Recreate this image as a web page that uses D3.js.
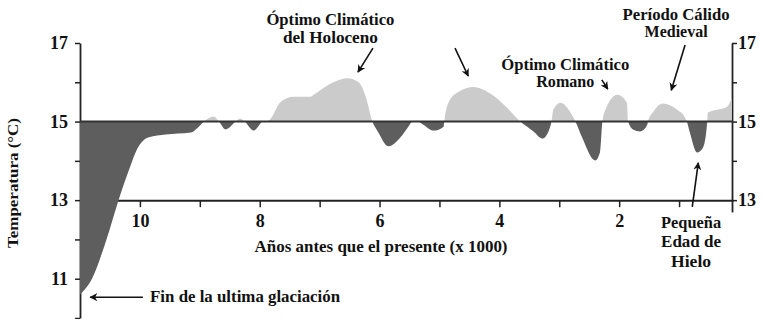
<!DOCTYPE html>
<html><head><meta charset="utf-8">
<script src="https://cdn.jsdelivr.net/npm/d3@7"></script>
<style>
html,body{margin:0;padding:0;background:#fff;}
svg{display:block;}
</style></head>
<body>
<svg id="chart" width="764" height="319"></svg>
<script>
// ---- data ----
const kyrBP = [11.0,10.8,10.57,10.35,10.18,10.05,9.85,9.57,9.15,9.03,8.93,8.77,8.68,8.57,8.4,8.33,8.25,8.1,7.95,7.85,7.65,7.43,7.15,7.1,6.77,6.53,6.35,6.23,6.12,6.03,5.85,5.65,5.52,5.45,5.38,5.27,5.1,4.93,4.92,4.85,4.68,4.43,4.12,3.87,3.65,3.43,3.28,3.18,3.13,3.1,2.98,2.82,2.73,2.62,2.4,2.32,2.28,2.23,2.03,1.87,1.85,1.77,1.65,1.53,1.52,1.43,1.27,1.03,0.9,0.87,0.82,0.7,0.6,0.53,0.52,0.37,0.2,0.12];
const tempC = [10.6,11.0,11.94,13.03,13.78,14.29,14.6,14.67,14.72,14.85,15.0,15.13,15.0,14.8,15.0,15.08,15.0,14.77,15.0,15.03,15.5,15.63,15.63,15.68,16.0,16.1,16.0,15.63,15.0,14.75,14.37,14.6,14.87,15.0,15.02,14.92,14.77,14.87,15.0,15.48,15.76,15.88,15.68,15.35,15.0,14.75,14.57,14.75,15.0,15.3,15.48,15.25,15.0,14.6,14.01,14.22,15.0,15.3,15.68,15.48,15.0,14.8,14.75,14.92,15.0,15.25,15.46,15.3,15.1,15.0,14.72,14.21,14.34,15.0,15.23,15.3,15.38,15.6];
const baselineTemp = 15;
const xTicks = [10,9,8,7,6,5,4,3,2,1];
const xTickLabels = ["10","","8","","6","","4","","2",""];
const yTicksLeft = [17,16,15,14,13,12,11,10];
const yTickLabelsLeft = ["17","","15","","13","","11",""];
const yTicksRight = [17,16,15,14,13];
const yTickLabelsRight = ["17","","15","","13"];
const xTitle = "Años antes que el presente (x 1000)";
const yTitle = "Temperatura (°C)";
// annotations: [text lines], anchor point (kyr, °C), arrow from -> to
const notes = [
  {lines:["Óptimo Climático","del Holoceno"], at:[6.82,17.46], step:0.46},
  {lines:["Óptimo Climático","Romano"], at:[2.90,16.31], step:0.43},
  {lines:["Período Cálido","Medieval"], at:[1.05,17.585], step:0.435},
  {lines:["Pequeña","Edad de","Hielo"], at:[0.80,12.29], step:0.49},
];
const glacText = "Fin de la ultima glaciación";
const glacAt = [9.83,10.41];
const arrows = [
  [[6.11,16.87],[6.36,16.26]],
  [[4.74,16.87],[4.52,16.16]],
  [[2.29,16.06],[2.19,15.83]],
  [[0.90,16.95],[1.13,15.80]],
  [[0.78,12.83],[0.68,13.95]],
  [[9.95,10.53],[10.83,10.53]],
];

// ---- drawing ----
const FONT = "Liberation Serif";
const svg = d3.select("#chart");
const x = d3.scaleLinear().domain([11,0.1]).range([80,733]);
const y = d3.scaleLinear().domain([10,17]).range([318,43]);
const data = kyrBP.map((k,i)=>({k, t:tempC[i]}));

const defs = svg.append("defs");
defs.append("clipPath").attr("id","above").append("rect")
  .attr("x",0).attr("y",0).attr("width",764).attr("height",y(baselineTemp));
defs.append("clipPath").attr("id","below").append("rect")
  .attr("x",0).attr("y",y(baselineTemp)).attr("width",764).attr("height",319);
const m = defs.append("marker").attr("id","ah").attr("viewBox","0 0 10 10")
  .attr("refX",9).attr("refY",5).attr("markerWidth",5).attr("markerHeight",5)
  .attr("orient","auto").attr("markerUnits","strokeWidth");
m.append("path").attr("d","M0,0 L10,5 L0,10 L3,5 z").attr("fill","#111");

function styleText(sel, size){
  return sel.attr("font-family",FONT).attr("font-weight","bold").attr("font-size",size).attr("fill","#111");
}

// axes
const axCol = "#222";
const xAxis = d3.axisBottom(x).tickValues(xTicks).tickSize(7).tickSizeOuter(0)
  .tickFormat((d,i)=>xTickLabels[i]);
const gx = svg.append("g").attr("transform",`translate(0,${y(13)})`).call(xAxis);
gx.select(".domain").attr("stroke",axCol).attr("stroke-width",2);
gx.selectAll(".tick line").attr("stroke",axCol).attr("stroke-width",1.5);
styleText(gx.selectAll(".tick text"),18).attr("dy","0.95em");

const yAxisL = d3.axisLeft(y).tickValues(yTicksLeft).tickSize(5).tickSizeOuter(0)
  .tickFormat((d,i)=>yTickLabelsLeft[i]);
const gyl = svg.append("g").attr("transform",`translate(${x(11)},0)`).call(yAxisL);
gyl.select(".domain").attr("stroke",axCol).attr("stroke-width",1.8);
gyl.selectAll(".tick line").attr("stroke",axCol).attr("stroke-width",1.5);
styleText(gyl.selectAll(".tick text"),18).attr("x",-12);

const yR = d3.scaleLinear().domain([12.7,17]).range([y(12.7),y(17)]);
const yAxisR = d3.axisRight(yR).tickValues(yTicksRight).tickSize(5).tickSizeOuter(0)
  .tickFormat((d,i)=>yTickLabelsRight[i]);
const gyr = svg.append("g").attr("transform",`translate(${x(0.1)-1},0)`).call(yAxisR);
gyr.select(".domain").attr("stroke",axCol).attr("stroke-width",1.8);
gyr.selectAll(".tick line").attr("stroke",axCol).attr("stroke-width",1.5);
styleText(gyr.selectAll(".tick text"),18).attr("x",6);

// area
const area = d3.area().x(d=>x(d.k)).y0(y(baselineTemp)).y1(d=>y(d.t)).curve(d3.curveMonotoneX);
svg.append("path").datum(data).attr("d",area).attr("fill","#cbcbcb").attr("clip-path","url(#above)");
svg.append("path").datum(data).attr("d",area).attr("fill","#5e5e5e").attr("clip-path","url(#below)");
svg.append("line").attr("x1",x(11)).attr("x2",x(0.1)).attr("y1",y(baselineTemp)).attr("y2",y(baselineTemp))
  .attr("stroke","#333").attr("stroke-width",2);

// titles
styleText(svg.append("text"),17).attr("x",381).attr("y",252).attr("text-anchor","middle")
  .attr("textLength",253).attr("lengthAdjust","spacingAndGlyphs").text(xTitle);
styleText(svg.append("text"),15).attr("transform",`translate(18,183) rotate(-90)`).attr("text-anchor","middle")
  .attr("textLength",130).attr("lengthAdjust","spacingAndGlyphs").text(yTitle);

// annotations
const widths = {"Óptimo Climático":128,"del Holoceno":95,"Romano":58,"Período Cálido":107,"Medieval":63,"Pequeña":60,"Edad de":60,"Hielo":40};
notes.forEach(n=>{
  n.lines.forEach((ln,i)=>{
    const t = styleText(svg.append("text"),16).attr("x",x(n.at[0])).attr("y",y(n.at[1]-i*n.step))
      .attr("text-anchor","middle").text(ln);
    if(widths[ln]) t.attr("textLength",widths[ln]).attr("lengthAdjust","spacingAndGlyphs");
  });
});
styleText(svg.append("text"),17).attr("x",x(glacAt[0])).attr("y",y(glacAt[1]))
  .attr("textLength",190).attr("lengthAdjust","spacingAndGlyphs").text(glacText);
arrows.forEach(a=>{
  svg.append("line").attr("x1",x(a[0][0])).attr("y1",y(a[0][1])).attr("x2",x(a[1][0])).attr("y2",y(a[1][1]))
    .attr("stroke","#111").attr("stroke-width",1.6).attr("marker-end","url(#ah)");
});
</script>
</body></html>
